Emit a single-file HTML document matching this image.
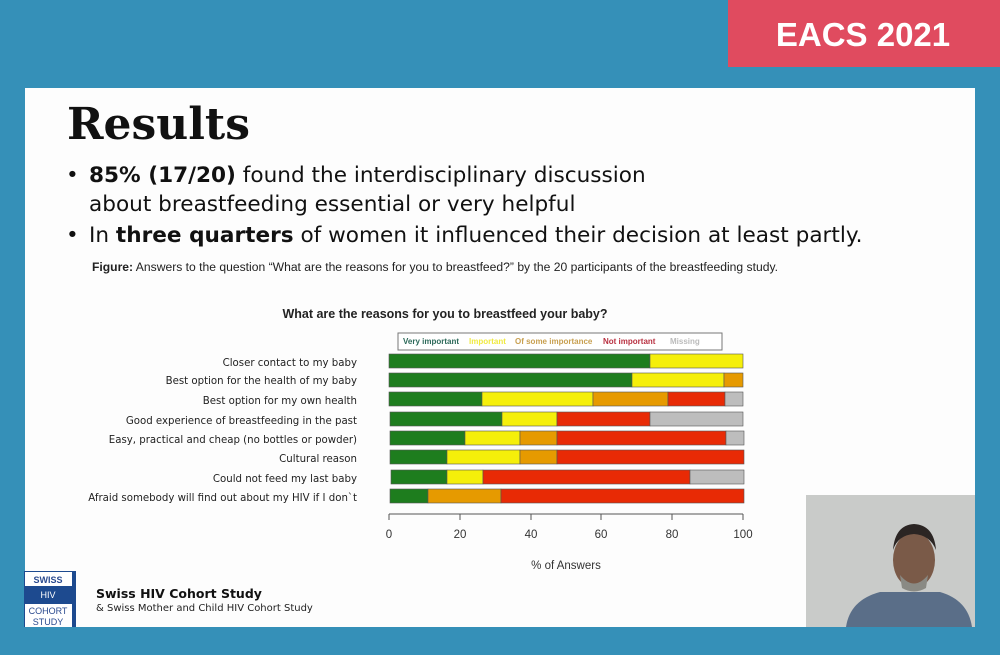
<!DOCTYPE html>
<html><head><meta charset="utf-8"><style>
body{margin:0;width:1000px;height:650px;background:#3590b8;overflow:hidden;font-family:"Liberation Sans","DejaVu Sans",sans-serif}
</style></head><body>
<svg width="1000" height="650" xmlns="http://www.w3.org/2000/svg" font-family="Liberation Sans, DejaVu Sans, sans-serif">
<rect width="1000" height="650" fill="#3590b8"/>
<rect x="728" y="0" width="272" height="67" fill="#e04b5f"/>
<text x="863" y="46" fill="#fff" font-size="33" font-weight="bold" text-anchor="middle">EACS 2021</text>
<rect x="25" y="88" width="950" height="539" fill="#fdfdfd"/>
<text x="67" y="139" font-family="DejaVu Serif, serif" font-weight="bold" font-size="44" fill="#111" textLength="183" lengthAdjust="spacingAndGlyphs">Results</text>
<g font-family="DejaVu Sans, sans-serif" font-size="21.6" fill="#111">
<text x="66" y="182">•</text><text x="89" y="182"><tspan font-weight="bold">85% (17/20)</tspan> found the interdisciplinary discussion</text>
<text x="89" y="211">about breastfeeding essential or very helpful</text>
<text x="66" y="242">•</text><text x="89" y="242">In <tspan font-weight="bold">three quarters</tspan> of women it influenced their decision at least partly.</text>
</g>
<text x="92" y="271" font-size="11.5" fill="#222" textLength="686" lengthAdjust="spacingAndGlyphs"><tspan font-weight="bold">Figure:</tspan> Answers to the question “What are the reasons for you to breastfeed?” by the 20 participants of the breastfeeding study.</text>
<text x="445" y="318" font-size="12.5" font-weight="bold" fill="#222" text-anchor="middle">What are the reasons for you to breastfeed your baby?</text>
<rect x="398" y="333" width="324" height="17" fill="#fff" stroke="#777"/>
<g font-size="8" font-weight="bold">
<text x="403" y="344" fill="#2d6a5a">Very important</text>
<text x="469" y="344" fill="#f0ea40">Important</text>
<text x="515" y="344" fill="#c8a050">Of some importance</text>
<text x="603" y="344" fill="#b83040">Not important</text>
<text x="670" y="344" fill="#bbb">Missing</text>
</g>
<g stroke="#555" stroke-width="0.6">
<rect x="389" y="354" width="261" height="14" fill="#1e7d1e"/><rect x="650" y="354" width="93" height="14" fill="#f5ef0a"/>
<rect x="389" y="373" width="243" height="14" fill="#1e7d1e"/><rect x="632" y="373" width="92" height="14" fill="#f5ef0a"/><rect x="724" y="373" width="19" height="14" fill="#e69a00"/>
<rect x="389" y="392" width="93" height="14" fill="#1e7d1e"/><rect x="482" y="392" width="111" height="14" fill="#f5ef0a"/><rect x="593" y="392" width="75" height="14" fill="#e69a00"/><rect x="668" y="392" width="57" height="14" fill="#e82a05"/><rect x="725" y="392" width="18" height="14" fill="#bdbdbd"/>
<rect x="390" y="412" width="112" height="14" fill="#1e7d1e"/><rect x="502" y="412" width="55" height="14" fill="#f5ef0a"/><rect x="557" y="412" width="93" height="14" fill="#e82a05"/><rect x="650" y="412" width="93" height="14" fill="#bdbdbd"/>
<rect x="390" y="431" width="75" height="14" fill="#1e7d1e"/><rect x="465" y="431" width="55" height="14" fill="#f5ef0a"/><rect x="520" y="431" width="37" height="14" fill="#e69a00"/><rect x="557" y="431" width="169" height="14" fill="#e82a05"/><rect x="726" y="431" width="18" height="14" fill="#bdbdbd"/>
<rect x="390" y="450" width="57" height="14" fill="#1e7d1e"/><rect x="447" y="450" width="73" height="14" fill="#f5ef0a"/><rect x="520" y="450" width="37" height="14" fill="#e69a00"/><rect x="557" y="450" width="187" height="14" fill="#e82a05"/>
<rect x="391" y="470" width="56" height="14" fill="#1e7d1e"/><rect x="447" y="470" width="36" height="14" fill="#f5ef0a"/><rect x="483" y="470" width="207" height="14" fill="#e82a05"/><rect x="690" y="470" width="54" height="14" fill="#bdbdbd"/>
<rect x="390" y="489" width="38" height="14" fill="#1e7d1e"/><rect x="428" y="489" width="73" height="14" fill="#e69a00"/><rect x="501" y="489" width="243" height="14" fill="#e82a05"/>
</g>
<g font-family="DejaVu Sans, sans-serif" font-size="10.2" fill="#222" text-anchor="end">
<text x="357" y="366">Closer contact to my baby</text>
<text x="357" y="384">Best option for the health of my baby</text>
<text x="357" y="404">Best option for my own health</text>
<text x="357" y="424">Good experience of breastfeeding  in the past</text>
<text x="357" y="443">Easy, practical and cheap (no bottles or powder)</text>
<text x="357" y="462">Cultural reason</text>
<text x="357" y="482">Could not feed my last baby</text>
<text x="357" y="501">Afraid somebody will find out about my HIV if I don`t</text>
</g>
<g stroke="#555"><line x1="389" y1="514" x2="743" y2="514"/>
<line x1="389" y1="514" x2="389" y2="520"/><line x1="460" y1="514" x2="460" y2="520"/><line x1="531" y1="514" x2="531" y2="520"/><line x1="601" y1="514" x2="601" y2="520"/><line x1="672" y1="514" x2="672" y2="520"/><line x1="743" y1="514" x2="743" y2="520"/></g>
<g font-size="11.5" fill="#333" text-anchor="middle">
<text x="389" y="538">0</text><text x="460" y="538">20</text><text x="531" y="538">40</text><text x="601" y="538">60</text><text x="672" y="538">80</text><text x="743" y="538">100</text>
<text x="566" y="569">% of Answers</text></g>
<rect x="24" y="571" width="52" height="56" fill="#1d4a8f"/>
<rect x="25" y="572" width="47" height="14" fill="#fff"/><rect x="25" y="604" width="47" height="23" fill="#fff"/>
<g font-size="9" text-anchor="middle"><text x="48" y="583" fill="#2a4a8f" font-weight="bold">SWISS</text><text x="48" y="598" fill="#fff">HIV</text><text x="48" y="614" fill="#2a4a8f">COHORT</text><text x="48" y="625" fill="#2a4a8f">STUDY</text></g>
<text x="96" y="598" font-family="DejaVu Sans, sans-serif" font-size="12.5" font-weight="bold" fill="#111">Swiss HIV Cohort Study</text>
<text x="96" y="611" font-family="DejaVu Sans, sans-serif" font-size="10" fill="#222">&amp; Swiss Mother and Child HIV Cohort Study</text>
<rect x="806" y="495" width="169" height="132" fill="#c9cbc9"/>
<path d="M846 627 Q850 600 880 592 L940 592 Q968 600 972 627Z" fill="#5a6e88"/>
<ellipse cx="914" cy="560" rx="21" ry="28" fill="#7a5a48"/>
<path d="M893 550 Q895 525 914 524 Q934 525 936 550 Q930 535 914 534 Q898 535 893 550Z" fill="#2b2523"/>
<path d="M900 575 Q914 592 928 575 L926 588 Q914 595 902 588Z" fill="#8a8a84"/>
</svg>
</body></html>
